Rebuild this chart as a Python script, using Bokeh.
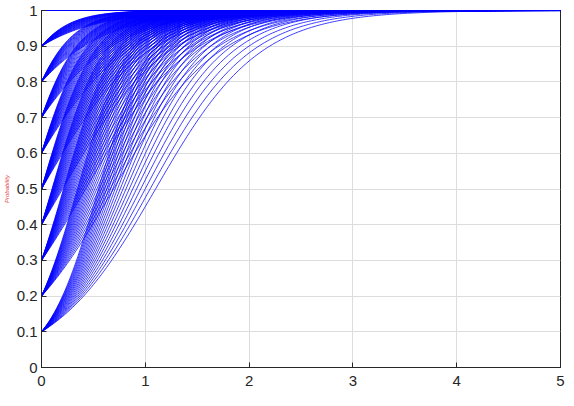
import numpy as np
from bokeh.plotting import figure
from bokeh.models import ColumnDataSource, FixedTicker
from bokeh.embed import file_html
from bokeh.resources import INLINE

# Starting values of each family of curves (read at x = 0)
initial_values = [0.0, 0.1, 0.2, 0.3, 0.4, 0.5, 0.6, 0.7, 0.8, 0.9, 1.0]
# Growth rates of the fanned curves
growth_rates = [2.0, 2.1, 2.2, 2.3, 2.4, 2.5, 2.6, 2.7, 2.8, 2.9, 3.0,
                3.1, 3.2, 3.3, 3.4, 3.5, 3.6, 3.7, 3.8, 3.9, 4.0]
# Sample positions along x
x_samples = list(np.linspace(0, 5, 201))
x_ticks = [0, 1, 2, 3, 4, 5]
y_ticks = [0, 0.1, 0.2, 0.3, 0.4, 0.5, 0.6, 0.7, 0.8, 0.9, 1.0]

xs_all, ys_all = [], []
xa = np.array(x_samples)
for y0 in initial_values:
    for r in growth_rates:
        if y0 <= 0:
            y = np.zeros_like(xa)
        else:
            y = 1.0 / (1.0 + ((1.0 - y0) / y0) * np.exp(-r * xa))
        xs_all.append(list(xa))
        ys_all.append(list(y))

src = ColumnDataSource(data=dict(xs=xs_all, ys=ys_all))

p = figure(width=566, height=399, x_range=(0, 5), y_range=(0, 1),
           output_backend="svg", toolbar_location=None,
           min_border_left=36, min_border_right=6, min_border_top=10,
           min_border_bottom=32)
p.background_fill_color = "white"
p.border_fill_color = "white"
p.outline_line_color = "#262626"
p.outline_line_width = 1

p.multi_line(xs="xs", ys="ys", source=src, line_color="#0000ff", line_width=0.75)

for ax in (p.xaxis[0], p.yaxis[0]):
    ax.major_tick_in = 5
    ax.major_tick_out = 0
    ax.minor_tick_line_color = None
    ax.axis_line_color = "#262626"
    ax.major_tick_line_color = "#262626"
    ax.major_label_text_font = "Liberation Sans"
    ax.major_label_text_font_size = "15px"
    ax.major_label_text_color = "#262626"

p.xaxis.ticker = FixedTicker(ticks=x_ticks)
p.yaxis.ticker = FixedTicker(ticks=y_ticks)
p.xaxis.major_label_overrides = {t: str(t) for t in x_ticks}
p.yaxis.major_label_overrides = {t: ("%g" % t) for t in y_ticks}
p.xaxis.major_label_standoff = 8
p.yaxis.major_label_standoff = 4

p.yaxis.axis_label = "Probability"
p.yaxis.axis_label_text_font_size = "6px"
p.yaxis.axis_label_text_color = "#e04040"
p.yaxis.axis_label_standoff = 4

p.xgrid.ticker = FixedTicker(ticks=x_ticks)
p.ygrid.ticker = FixedTicker(ticks=y_ticks)
p.grid.grid_line_color = "#dcdcdc"
p.grid.grid_line_width = 1

open("out.html", "w").write(file_html(p, INLINE))
